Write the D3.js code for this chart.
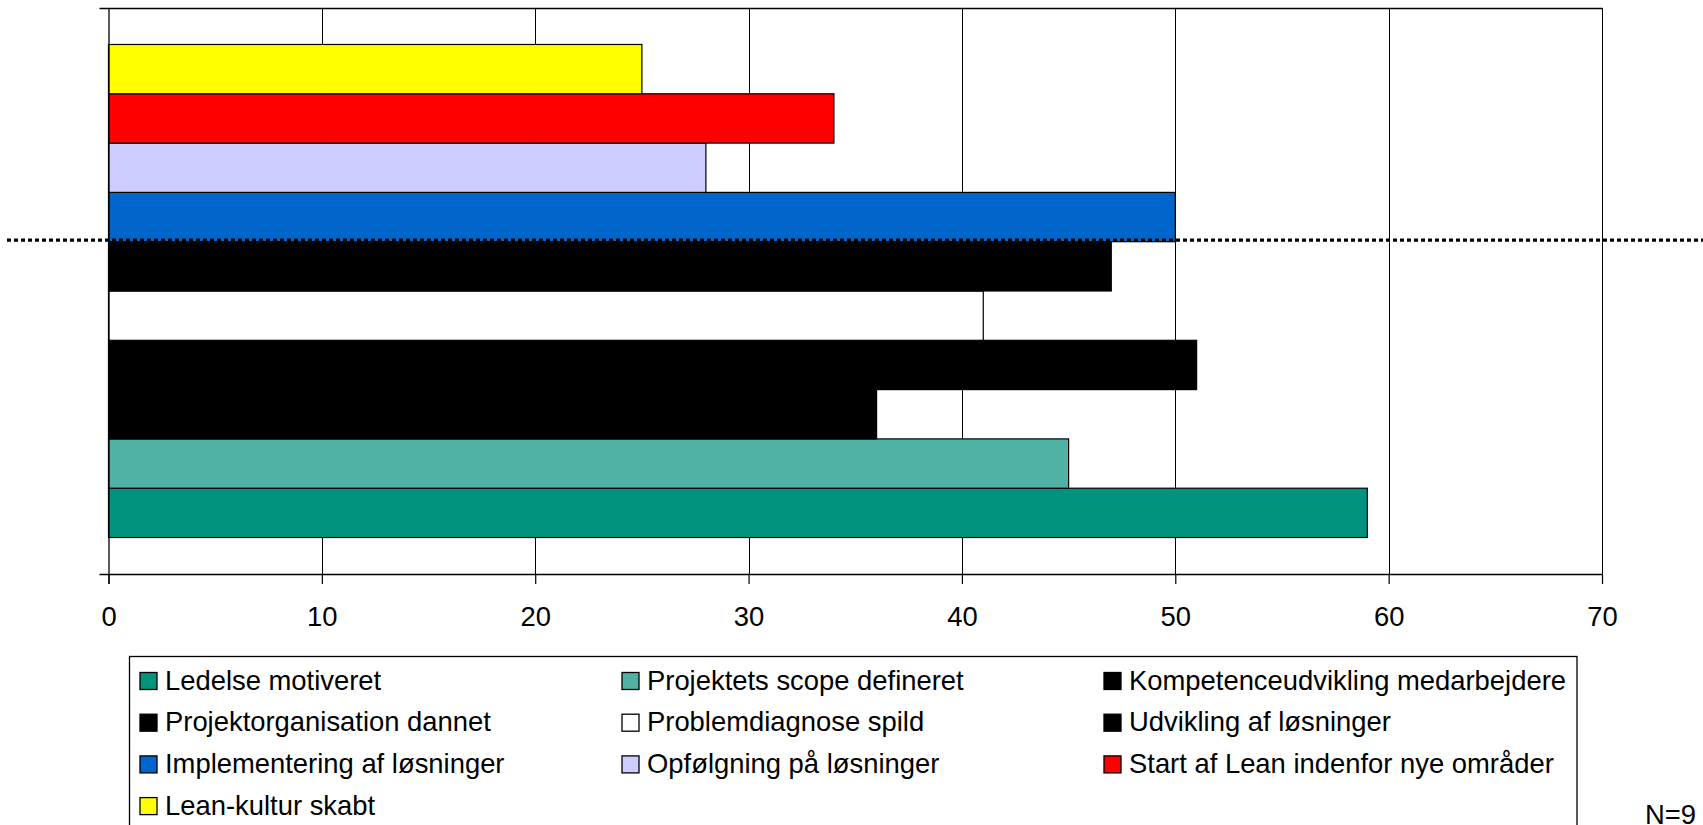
<!DOCTYPE html>
<html>
<head>
<meta charset="utf-8">
<script src="https://cdn.jsdelivr.net/npm/d3@7"></script>
<style>
  html, body { margin: 0; padding: 0; background: #fff; overflow: hidden; }
  svg { display: block; font-family: "Liberation Sans", Arial, sans-serif; }
</style>
</head>
<body>
<svg id="chart" width="1703" height="825"></svg>
<script>
// ---- data ----
const series = [
  "Ledelse motiveret",
  "Projektets scope defineret",
  "Kompetenceudvikling medarbejdere",
  "Projektorganisation dannet",
  "Problemdiagnose spild",
  "Udvikling af løsninger",
  "Implementering af løsninger",
  "Opfølgning på løsninger",
  "Start af Lean indenfor nye områder",
  "Lean-kultur skabt"
];
const values = [59, 45, 36, 51, 41, 47, 50, 28, 34, 25];
const colors = ["#00947E", "#4FB2A5", "#000000", "#000000", "#FFFFFF",
                "#000000", "#0066CC", "#CCCCFF", "#FF0000", "#FFFF00"];
const xTicks = [0, 10, 20, 30, 40, 50, 60, 70];
const noteText = "N=9";

// ---- layout ----
const svg = d3.select("#chart");
const plotLeft = 108.5, plotRight = 1602, plotTop = 8, plotBottom = 574;
const fontSize = 27.4;

const x = d3.scaleLinear().domain([0, 70]).range([plotLeft, plotRight]);
// Excel draws series 1 at the bottom
const y = d3.scaleBand().domain(series.slice().reverse()).range([plotTop, plotBottom])
  .paddingInner(0).paddingOuter(0.74);

const data = series.map((s, i) => ({ name: s, value: values[i], color: colors[i] }));

// gridlines
svg.append("g").selectAll("line").data(xTicks.slice(1)).join("line")
  .attr("x1", d => Math.round(x(d)) + 0.5).attr("x2", d => Math.round(x(d)) + 0.5)
  .attr("y1", plotTop).attr("y2", plotBottom)
  .attr("stroke", "#000").attr("stroke-width", 1);

// top border
svg.append("line")
  .attr("x1", plotLeft - 9).attr("x2", plotRight + 0.5)
  .attr("y1", plotTop + 0.5).attr("y2", plotTop + 0.5)
  .attr("stroke", "#000").attr("stroke-width", 1.3);

// bars
svg.append("g").selectAll("rect").data(data).join("rect")
  .attr("x", x(0))
  .attr("y", d => y(d.name))
  .attr("width", d => x(d.value) - x(0))
  .attr("height", y.bandwidth())
  .attr("fill", d => d.color)
  .attr("stroke", "#000").attr("stroke-width", 1.2);

// x axis
const xAxis = d3.axisBottom(x).tickValues(xTicks).tickSize(10).tickPadding(0).tickFormat(d3.format("d"));
const gx = svg.append("g").attr("transform", `translate(0,${plotBottom})`).call(xAxis);
gx.select(".domain").remove();
gx.selectAll(".tick line").attr("stroke", "#000").attr("stroke-width", 1.2);
gx.selectAll(".tick text").attr("font-size", fontSize).attr("fill", "#000")
  .attr("font-family", '"Liberation Sans", Arial, sans-serif')
  .attr("dy", null).attr("y", 625.7 - plotBottom);
svg.append("line")
  .attr("x1", plotLeft - 9).attr("x2", plotRight + 0.5)
  .attr("y1", plotBottom + 0.5).attr("y2", plotBottom + 0.5)
  .attr("stroke", "#000").attr("stroke-width", 1.5);

// y axis line
svg.append("line")
  .attr("x1", plotLeft + 0.5).attr("x2", plotLeft + 0.5)
  .attr("y1", plotTop).attr("y2", plotBottom + 10)
  .attr("stroke", "#000").attr("stroke-width", 1.3);

// dotted separator between "Implementering" and "Udvikling"
const sepY = y("Implementering af løsninger") + y.bandwidth() - 1.5;
svg.append("line")
  .attr("x1", 7).attr("x2", 1703)
  .attr("y1", sepY).attr("y2", sepY)
  .attr("stroke", "#000").attr("stroke-width", 3.2)
  .attr("stroke-dasharray", "4,3");

// legend
const legX = 129.5, legTop = 656, legRight = 1577;
svg.append("rect")
  .attr("x", legX).attr("y", legTop + 0.5)
  .attr("width", legRight - legX).attr("height", 200)
  .attr("fill", "none").attr("stroke", "#000").attr("stroke-width", 1.3);

const colX = [139.5, 621.5, 1103.5];
const rowBase = [689.5, 731.2, 772.9, 814.6];
const lg = svg.append("g").selectAll("g").data(data).join("g")
  .attr("transform", (d, i) => `translate(${colX[i % 3]},${rowBase[Math.floor(i / 3)]})`);
lg.append("rect")
  .attr("x", 0.5).attr("y", -17)
  .attr("width", 17).attr("height", 17)
  .attr("fill", d => d.color).attr("stroke", "#000").attr("stroke-width", 1.3);
lg.append("text")
  .attr("x", 25.5).attr("y", 0)
  .attr("font-size", fontSize).attr("fill", "#000")
  .text(d => d.name);

// note
svg.append("text")
  .attr("x", 1645).attr("y", 824)
  .attr("font-size", fontSize).attr("fill", "#000")
  .text(noteText);
</script>
</body>
</html>
